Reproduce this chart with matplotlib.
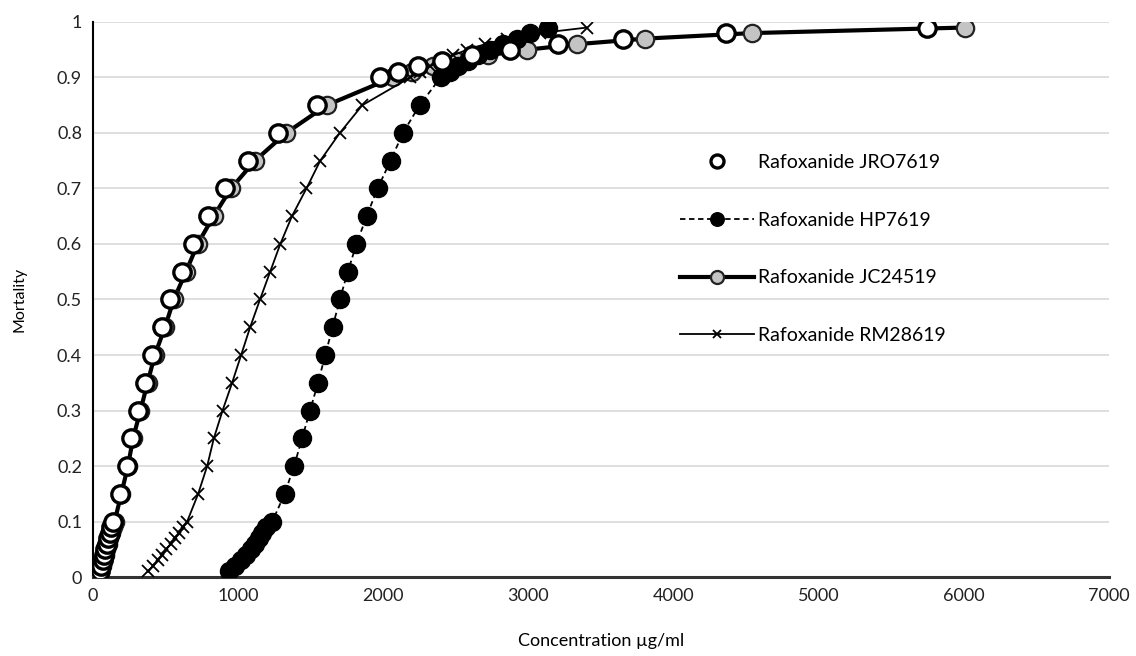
import matplotlib.pyplot as plt

plt.rcParams['font.family'] = ['Lato', 'DejaVu Sans']

# Mortalitaetsstufen (Probit-Tabelle)
mortality = [0.01, 0.02, 0.03, 0.04, 0.05, 0.06, 0.07, 0.08, 0.09, 0.10,
             0.15, 0.20, 0.25, 0.30, 0.35, 0.40, 0.45, 0.50, 0.55, 0.60,
             0.65, 0.70, 0.75, 0.80, 0.85, 0.90, 0.91, 0.92, 0.93, 0.94,
             0.95, 0.96, 0.97, 0.98, 0.99]

# Konzentrationen in ug/ml
conc_jro7619 = [45, 55, 65, 75, 85, 95, 105, 115, 126, 140,
                184, 230, 262, 312, 358, 405, 475, 531, 613, 689,
                793, 910, 1068, 1275, 1544, 1978, 2102, 2240, 2405, 2612,
                2874, 3205, 3653, 4362, 5748]
conc_hp7619 = [935, 980, 1020, 1055, 1085, 1115, 1140, 1165, 1190, 1235,
               1320, 1385, 1440, 1495, 1550, 1600, 1650, 1700, 1755, 1815,
               1885, 1960, 2050, 2135, 2250, 2395, 2460, 2515, 2584, 2653,
               2736, 2826, 2922, 3012, 3136]
conc_jc24519 = [50, 60, 70, 80, 90, 101, 111, 122, 134, 148,
                194, 240, 275, 326, 375, 425, 495, 556, 640, 720,
                830, 950, 1115, 1330, 1610, 2065, 2195, 2340, 2510, 2722,
                2991, 3336, 3804, 4542, 6010]
conc_rm28619 = [380, 415, 445, 475, 505, 535, 565, 595, 620, 648,
                724, 786, 832, 892, 958, 1020, 1082, 1150, 1220, 1290,
                1370, 1470, 1565, 1700, 1855, 2185, 2254, 2322, 2398, 2481,
                2577, 2702, 2853, 3081, 3405]

labels = ["Rafoxanide JRO7619", "Rafoxanide HP7619",
          "Rafoxanide JC24519", "Rafoxanide RM28619"]

fig = plt.figure(figsize=(11.36, 6.56), dpi=100)
ax = fig.add_axes([0.082, 0.1204, 0.894, 0.8461])

# JC24519: dicke Linie, graue Kreise (hinten)
l_jc, = ax.plot(conc_jc24519, mortality, color='black', lw=3.0, marker='o',
                markersize=12.5, markerfacecolor='#c4c4c4', markeredgecolor='#222222',
                markeredgewidth=1.6, zorder=3)
# RM28619: duenne Linie mit Kreuzen
l_rm, = ax.plot(conc_rm28619, mortality, color='black', lw=1.3, marker='x',
                markersize=8.5, markeredgewidth=1.3, zorder=4)
# HP7619: gestrichelt, gefuellte Kreise
l_hp, = ax.plot(conc_hp7619, mortality, color='black', lw=1.3,
                linestyle=(0, (3, 2)), marker='o', markersize=13,
                markerfacecolor='black', markeredgecolor='black', zorder=5)
# JRO7619: nur offene Kreise
l_jro, = ax.plot(conc_jro7619, mortality, linestyle='none', marker='o',
                 markersize=12.5, markerfacecolor='white', markeredgecolor='black',
                 markeredgewidth=2.4, zorder=6)

ax.set_xlim(0, 7000)
ax.set_ylim(0, 1)
ax.set_xticks(range(0, 7001, 1000))
ax.set_yticks([i / 10 for i in range(11)])
ax.set_yticklabels(["0", "0.1", "0.2", "0.3", "0.4", "0.5", "0.6",
                    "0.7", "0.8", "0.9", "1"])
ax.tick_params(length=0, labelsize=13, colors='#222222', pad=8)

ax.grid(axis='y', color='#dcdcdc', lw=1.3)
ax.set_axisbelow(True)
for s in ['top', 'right']:
    ax.spines[s].set_visible(False)
ax.spines['left'].set_color('black')
ax.spines['left'].set_linewidth(1.5)
ax.spines['bottom'].set_color('#333333')
ax.spines['bottom'].set_linewidth(2.2)

ax.set_xlabel("Concentration µg/ml", fontsize=13, labelpad=21)
ax.set_ylabel("Mortality", fontsize=11.5, labelpad=22)

fig.legend([l_jro, l_hp, l_jc, l_rm], labels, loc='upper left',
           bbox_to_anchor=(670 / 1136, 1 - 144 / 656), frameon=False,
           fontsize=14, handlelength=3.8, labelspacing=2.1,
           markerscale=0.75, handletextpad=0.25, borderpad=0)

fig.savefig("out.png", dpi=100)
